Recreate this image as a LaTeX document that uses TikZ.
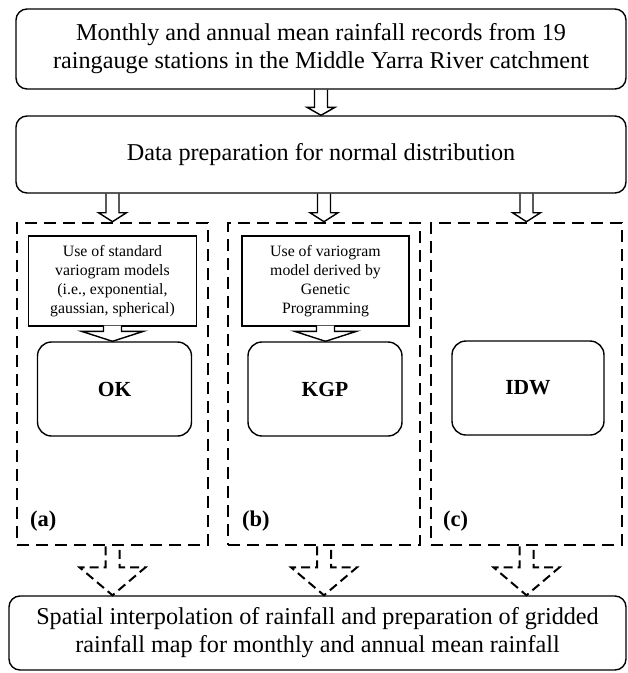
\documentclass[tikz,border=0pt]{standalone}
\usepackage{fontspec}
\setmainfont{Liberation Serif}
\usetikzlibrary{calc}

\tikzset{
  bigbox/.style={draw,rounded corners=11pt,line width=1.4pt,align=center,font=\fontsize{24.2}{28}\selectfont},
  method/.style={draw,rounded corners=14pt,line width=1.4pt,minimum width=154pt,minimum height=94pt,font=\fontsize{21.5}{25}\selectfont\bfseries},
  modelbox/.style={draw,line width=1.4pt,minimum width=168pt,minimum height=90pt,align=center,font=\fontsize{15.8}{19}\selectfont},
  dashbox/.style={draw,line width=2.6pt,dash pattern=on 12pt off 7pt,minimum height=322pt},
  panel/.style={anchor=west,inner sep=0pt,font=\fontsize{22.5}{26}\selectfont\bfseries},
  dasharrow/.style={line width=2pt,dash pattern=on 9pt off 5pt}
}

% hollow block arrow: [style]{from}{to}{stem half width}{head half width}{head length}
\newcommand{\blockarrow}[6][]{%
  \draw[#1] let \p1=(#2), \p2=(#3) in
    (\x1-#4pt,\y1) -- (\x1-#4pt,\y2+#6pt) -- (\x1-#5pt,\y2+#6pt) -- (\x1,\y2)
    -- (\x1+#5pt,\y2+#6pt) -- (\x1+#4pt,\y2+#6pt) -- (\x1+#4pt,\y1);}

\begin{document}
\begin{tikzpicture}[x=1pt,y=-1pt]
    \useasboundingbox (0,0) rectangle (628,673);
    %main boxes
    \node (records) at (321,49) [bigbox,minimum width=610pt,minimum height=80pt] {Monthly and annual mean rainfall records from 19\\raingauge stations in the Middle Yarra River catchment};
    \node (prep) at (321,154.5) [bigbox,minimum width=610pt,minimum height=77pt] {Data preparation for normal distribution};

    %method panels
    \node (boxa) at (112.5,384) [dashbox,minimum width=191pt] {};
    \node (boxb) at (324,384) [dashbox,minimum width=192pt] {};
    \node (boxc) at (526.5,384) [dashbox,minimum width=191pt] {};

    \node (usea) at (112.5,281) [modelbox] {Use of standard\\variogram models\\(i.e., exponential,\\gaussian, spherical)};
    \node (useb) at (325.5,281) [modelbox,minimum width=167pt] {Use of variogram\\model derived by\\Genetic\\Programming};

    \node (ok) at (114.5,389) [method] {OK};
    \node (kgp) at (325,389) [method] {KGP};
    \node (idw) at (528,388) [method,minimum width=152pt] {IDW};

    \node (laba) at (30,521) [panel] {(a)};
    \node (labb) at (242,521) [panel] {(b)};
    \node (labc) at (443,521) [panel] {(c)};

    \node (result) at (317.5,633) [bigbox,minimum width=617pt,minimum height=74pt] {Spatial interpolation of rainfall and preparation of gridded\\rainfall map for monthly and annual mean rainfall};

    %arrows
    \blockarrow[line width=1.4pt]{records.south}{prep.north}{6.5}{14}{8}
    \blockarrow[line width=1.4pt]{boxa.north |- prep.south}{boxa.north}{6.5}{14}{9}
    \blockarrow[line width=1.4pt]{boxb.north |- prep.south}{boxb.north}{6.5}{14}{9}
    \blockarrow[line width=1.4pt]{boxc.north |- prep.south}{boxc.north}{6.5}{14}{9}

    \blockarrow[line width=1.4pt,fill=white]{[yshift=1pt]usea.south}{usea.south |- ok.north}{9}{31}{10}
    \blockarrow[line width=1.4pt,fill=white]{[yshift=1pt]useb.south}{useb.south |- kgp.north}{9}{31}{10}

    \blockarrow[dasharrow]{boxa.south}{boxa.south |- result.north}{7}{33}{28}
    \blockarrow[dasharrow]{boxb.south}{boxb.south |- result.north}{7}{33}{28}
    \blockarrow[dasharrow]{boxc.south}{boxc.south |- result.north}{7}{33}{28}
\end{tikzpicture}
\end{document}
